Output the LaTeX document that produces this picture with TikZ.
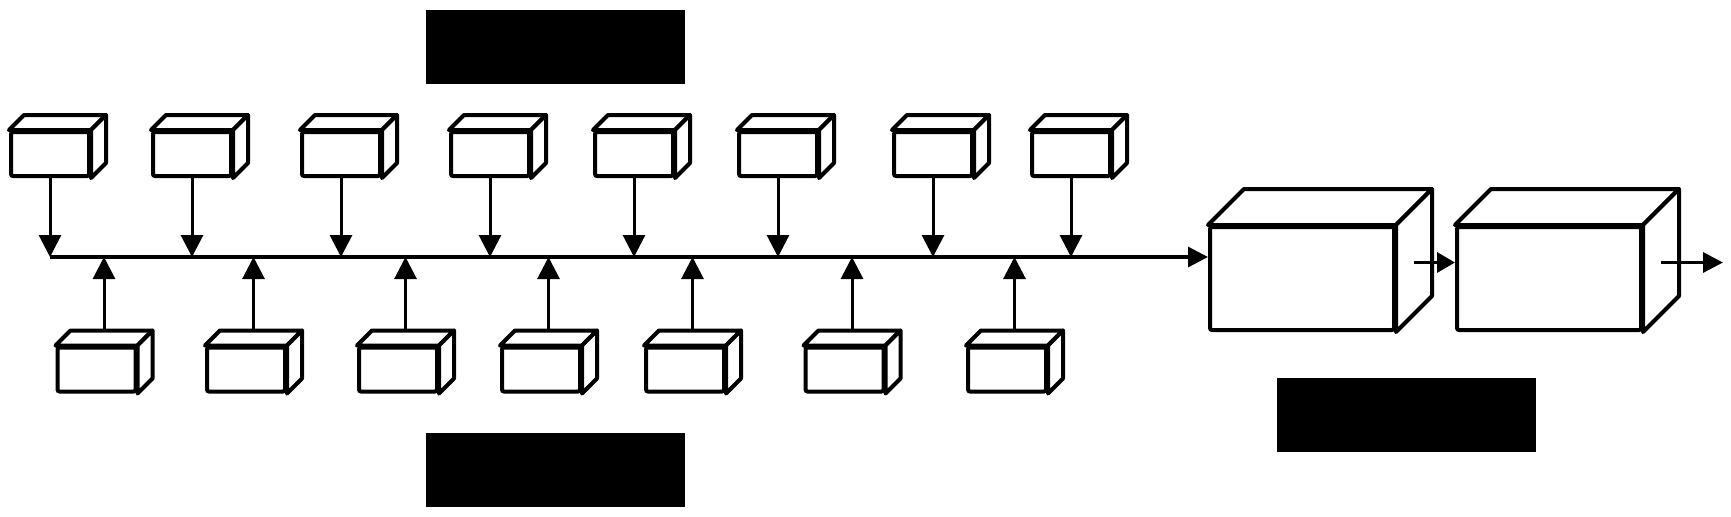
\documentclass[tikz,border=0pt]{standalone}
\usetikzlibrary{arrows.meta}
\usetikzlibrary{calc}

\begin{document}
\begin{tikzpicture}[x=0.5pt, y=-0.5pt,
  unit/.style={draw, line width=2pt, rounded corners=1pt, fill=white, minimum width=39pt, minimum height=22pt, inner sep=0pt},
  bigunit/.style={unit, minimum width=92pt, minimum height=51.5pt},
  face/.style={draw, line width=2pt, line join=round, fill=white},
  feed/.style={line width=1.5pt, -{Triangle[width=11pt,length=11pt]}},
  bus/.style={line width=1.6pt, -{Triangle[width=10pt,length=10pt]}},
  link/.style={line width=1.6pt, -{Triangle[width=10pt,length=9pt]}},
  tag/.style={fill=black, minimum width=129.5pt, minimum height=37pt, inner sep=0pt}]

\useasboundingbox (0,0) rectangle (1731,516);

\node[tag] (tagTop) at (555.5,47) {};
\node[tag] (tagBot) at (555.5,469.5) {};
\node[tag] (tagOut) at (1406,414.5) {};

\node[unit] (t1) at (50,154) {};
\node[unit] (t2) at (192,154) {};
\node[unit] (t3) at (341,154) {};
\node[unit] (t4) at (490,154) {};
\node[unit] (t5) at (634,154) {};
\node[unit] (t6) at (778,154) {};
\node[unit] (t7) at (933,154) {};
\node[unit] (t8) at (1071,154) {};

\node[unit] (b1) at (96.5,369.5) {};
\node[unit] (b2) at (246,369.5) {};
\node[unit] (b3) at (398,369.5) {};
\node[unit] (b4) at (541,369.5) {};
\node[unit] (b5) at (685,369.5) {};
\node[unit] (b6) at (844.5,369.5) {};
\node[unit] (b7) at (1007,369.5) {};

\node[bigunit] (m1) at (1302,278.5) {};
\node[bigunit] (m2) at (1549,278.5) {};

\foreach \n in {t1,t2,t3,t4,t5,t6,t7,t8,b1,b2,b3,b4,b5,b6,b7}{
  \draw[face] (\n.north west) -- ++(15,-15) -- ($(\n.north east)+(15,-15)$) -- (\n.north east) -- cycle;
  \draw[face] (\n.north east) -- ++(15,-15) -- ($(\n.south east)+(15,-15)$) -- (\n.south east) -- cycle;
}
\foreach \n in {m1,m2}{
  \draw[face] (\n.north west) -- ++(36,-36) -- ($(\n.north east)+(36,-36)$) -- (\n.north east) -- cycle;
  \draw[face] (\n.north east) -- ++(36,-36) -- ($(\n.south east)+(36,-36)$) -- (\n.south east) -- cycle;
  \coordinate (\n r) at ($(\n.east)+(18,-16)$);
}

\coordinate (busL) at (50,257);
\draw[bus] (busL) -- (m1.west |- busL);

\foreach \n in {t1,t2,t3,t4,t5,t6,t7,t8}
  \draw[feed] (\n.south) -- (\n.south |- busL);
\foreach \n in {b1,b2,b3,b4,b5,b6,b7}{
  \coordinate (\n top) at ($(\n.north)+(7.5,-15)$);
  \draw[feed] (\n top) -- (\n top |- busL);
}

\coordinate (out) at ($(m2r)+(62,0)$);
\draw[link] (m1r) -- (m2.west |- m1r);
\draw[bus] (m2r) -- (out);

\end{tikzpicture}
\end{document}
